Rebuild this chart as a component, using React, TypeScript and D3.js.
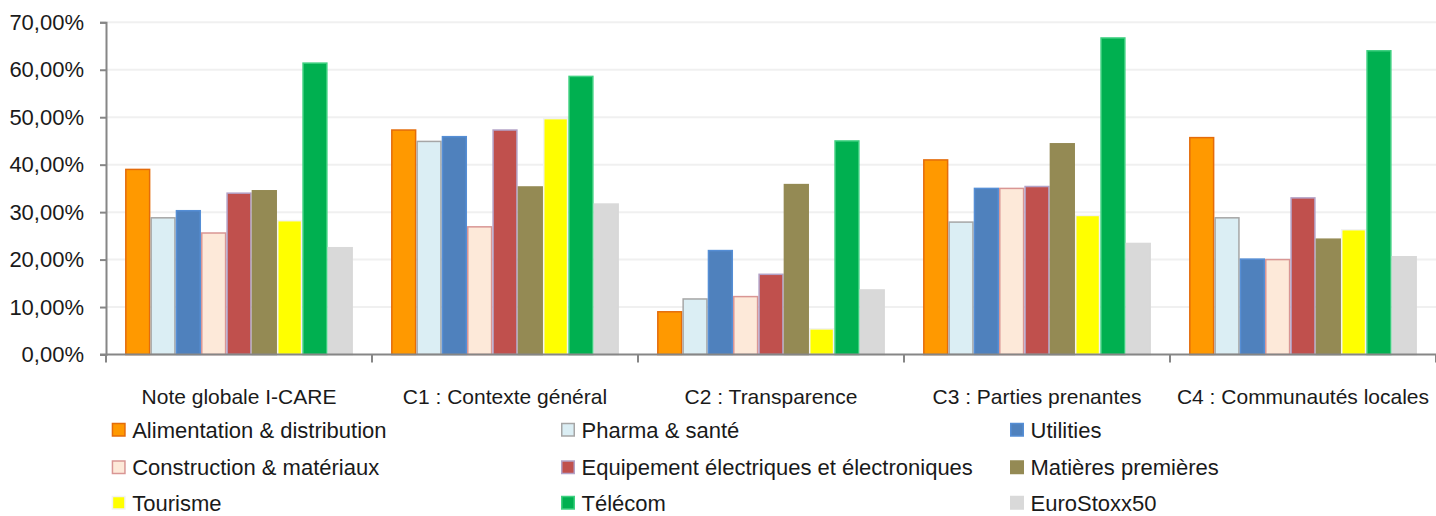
import React, { useEffect, useRef } from 'react';
import * as d3 from 'd3';

// Catégories (axe X)
const categories = [
  'Note globale I-CARE',
  'C1 : Contexte général',
  'C2 : Transparence',
  'C3 : Parties prenantes',
  'C4 : Communautés locales',
];

// Valeurs en % par secteur
const alimentation = [39.0, 47.3, 9.0, 41.0, 45.7];
const pharma = [28.8, 44.9, 11.7, 27.9, 28.8];
const utilities = [30.3, 45.9, 21.9, 35.0, 20.1];
const construction = [25.6, 26.9, 12.2, 35.0, 20.0];
const equipement = [34.0, 47.3, 16.9, 35.4, 33.0];
const matieres = [34.5, 35.3, 35.8, 44.4, 24.3];
const tourisme = [28.2, 49.7, 5.4, 29.3, 26.3];
const telecom = [61.4, 58.6, 45.0, 66.7, 64.0];
const eurostoxx = [22.5, 31.7, 13.6, 23.4, 20.6];

const seriesNames = [
  'Alimentation & distribution',
  'Pharma & santé',
  'Utilities',
  'Construction & matériaux',
  'Equipement électriques et électroniques',
  'Matières premières',
  'Tourisme',
  'Télécom',
  'EuroStoxx50',
];
const seriesValues = [alimentation, pharma, utilities, construction, equipement, matieres, tourisme, telecom, eurostoxx];

const yTicks = [0, 10, 20, 30, 40, 50, 60, 70];

const fills = ['#FF9900', '#DBEEF4', '#4F81BD', '#FDE9D9', '#C0504D', '#948A54', '#FFFF00', '#00B050', '#D9D9D9'];
const strokes = ['#E46C0A', '#A6A6A6', '#558ED5', '#D99694', '#B3A2C7', '#948A54', '#F2F2F2', '#3FD080', '#D9D9D9'];

const W = 1436;
const H = 516;
const FONT = '"Liberation Sans", Arial, sans-serif';

const App: React.FC = () => {
  const ref = useRef<SVGSVGElement>(null);

  useEffect(() => {
    const svg = d3.select(ref.current);
    svg.selectAll('*').remove();

    const left = 106;
    const right = 1436;
    const top = 22.3;
    const bottom = 354.5;

    const x0 = d3.scaleBand<string>().domain(categories).range([left, right]).paddingInner(0).paddingOuter(0);
    const x1 = d3.scaleBand<number>()
      .domain(d3.range(seriesNames.length))
      .range([0, x0.bandwidth()])
      .paddingInner(0)
      .paddingOuter(0.753);
    const y = d3.scaleLinear().domain([0, 70]).range([bottom, top]);

    // grille
    svg.append('g')
      .selectAll('line')
      .data(yTicks.filter(t => t > 0))
      .enter().append('line')
      .attr('x1', left)
      .attr('x2', right)
      .attr('y1', d => y(d))
      .attr('y2', d => y(d))
      .attr('stroke', '#F0F0F0')
      .attr('stroke-width', 2);

    // barres
    const groups = svg.append('g')
      .selectAll('g')
      .data(categories)
      .enter().append('g')
      .attr('transform', d => `translate(${x0(d)},0)`);

    groups.selectAll('rect')
      .data((_, ci) => seriesValues.map((vals, si) => ({ si, v: vals[ci] })))
      .enter().append('rect')
      .attr('x', d => x1(d.si)! + 0.75)
      .attr('y', d => y(d.v))
      .attr('width', x1.bandwidth() - 1.5)
      .attr('height', d => bottom - y(d.v))
      .attr('fill', d => fills[d.si])
      .attr('stroke', d => strokes[d.si])
      .attr('stroke-width', 1.5);

    // axe Y
    const yAxis = svg.append('g').attr('transform', `translate(${left},0)`)
      .call(d3.axisLeft(y).tickValues(yTicks).tickSize(6).tickPadding(16)
        .tickFormat(d => `${(d as number).toFixed(2).replace('.', ',')}%`));
    yAxis.select('.domain').attr('stroke', '#868686').attr('stroke-width', 2);
    yAxis.selectAll('.tick line').attr('stroke', '#868686').attr('stroke-width', 2);
    yAxis.selectAll('.tick text')
      .attr('font-family', FONT)
      .attr('font-size', 22)
      .attr('fill', '#1a1a1a');

    // axe X
    const xAxis = svg.append('g').attr('transform', `translate(0,${bottom})`);
    xAxis.append('line')
      .attr('x1', left - 6)
      .attr('x2', right)
      .attr('stroke', '#868686')
      .attr('stroke-width', 2);
    xAxis.selectAll('line.sep')
      .data(d3.range(categories.length + 1))
      .enter().append('line')
      .attr('class', 'sep')
      .attr('x1', i => left + i * x0.step())
      .attr('x2', i => left + i * x0.step())
      .attr('y1', 0)
      .attr('y2', 8)
      .attr('stroke', '#868686')
      .attr('stroke-width', 2);
    xAxis.selectAll('text')
      .data(categories)
      .enter().append('text')
      .attr('x', d => x0(d)! + x0.bandwidth() / 2)
      .attr('y', 49.5)
      .attr('text-anchor', 'middle')
      .attr('font-family', FONT)
      .attr('font-size', 21)
      .attr('fill', '#1a1a1a')
      .text(d => d);

    // légende
    const legendX = [111.7, 561, 1010];
    const legendY = [430, 467.5, 503];
    const legend = svg.append('g')
      .selectAll('g')
      .data(seriesNames)
      .enter().append('g')
      .attr('transform', (_, i) => `translate(${legendX[i % 3]},${legendY[Math.floor(i / 3)]})`);
    legend.append('rect')
      .attr('x', 0.75)
      .attr('y', -6.5)
      .attr('width', 12.5)
      .attr('height', 12.5)
      .attr('fill', (_, i) => fills[i])
      .attr('stroke', (_, i) => strokes[i])
      .attr('stroke-width', 1.5);
    legend.append('text')
      .attr('x', 20.5)
      .attr('y', 0)
      .attr('dy', '0.35em')
      .attr('font-family', FONT)
      .attr('font-size', 22)
      .attr('fill', '#1a1a1a')
      .text(d => d);
  }, []);

  return (
    <svg
      ref={ref}
      width={W}
      height={H}
      style={{ position: 'absolute', left: 0, top: 0, background: '#fff' }}
    />
  );
};

export default App;
